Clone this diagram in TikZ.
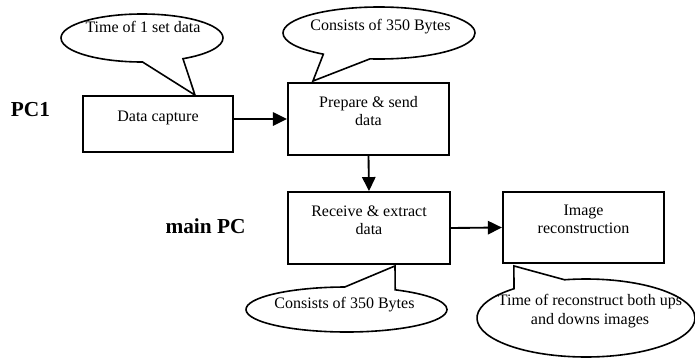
\documentclass[tikz,border=0pt]{standalone}
\usepackage{fontspec}
\setmainfont{Liberation Serif}
\usetikzlibrary{arrows.meta}
\usetikzlibrary{shapes.callouts}
\usetikzlibrary{calc}

\begin{document}
\begin{tikzpicture}[
		x=0.75pt, y=-0.75pt,
		line width=1.4pt,
		>={Triangle[length=10.5pt,width=10pt]},
		font=\fontsize{12}{13.8}\selectfont,
		box/.style={draw, align=center, minimum width=121pt, minimum height=54pt, text depth=12pt},
		bubble/.style={draw, fill=white, ellipse callout, line width=1.2pt, inner sep=0pt, callout pointer arc=30},
		side/.style={font=\fontsize{16}{19}\selectfont\bfseries},
	]
	\useasboundingbox (0,0) rectangle (695,357);

	% machines
	\node[side] (pc1) at (30.5, 110) {PC1};
	\node[side] (mainpc) at (205.5, 226.5) {main PC};

	% stages
	\node[box, minimum width=112.5pt, minimum height=42pt] (capture) at (158, 124) {Data capture};
	\node[box] (prepare) at (368.5, 119) {Prepare \& send\\data};
	\node[box] (receive) at (369, 228) {Receive \& extract\\data};
	\node[box, minimum height=53.25pt] (recon) at (583.5, 227.5) {Image\\reconstruction};

	% flow
	\draw[->] (capture.east |- prepare.west) -- (prepare.west);
	\draw[->] (prepare.south) -- (receive.north);
	\draw[->] (receive.east) -- (recon.west);

	% notes
	\node[bubble, minimum width=121.5pt, minimum height=36pt,
		callout absolute pointer={($(capture.north)+(37,0)$)}] (n1) at (142, 38) {};
	\node (n1text) at (143, 27) {Time of 1 set data};

	\node[bubble, minimum width=144pt, minimum height=39pt,
		callout absolute pointer={($(prepare.north west)+(26,-1)$)}] (n2) at (379, 33) {};
	\node (n2text) at (380.5, 27) {Consists of 350 Bytes};

	\node[bubble, minimum width=150.75pt, minimum height=33.75pt,
		callout absolute pointer={($(receive.south)+(26,1)$)}] (n3) at (346.5, 309.5) {};
	\node (n3text) at (344.5, 305) {Consists of 350 Bytes};

	\node[bubble, minimum width=163.5pt, minimum height=58.5pt,
		callout absolute pointer={($(recon.south west)+(12,2)$)}] (n4) at (586, 318) {};
	\node[align=center] (n4text) at (590, 311) {Time of reconstruct both ups\\and downs images};
\end{tikzpicture}
\end{document}
